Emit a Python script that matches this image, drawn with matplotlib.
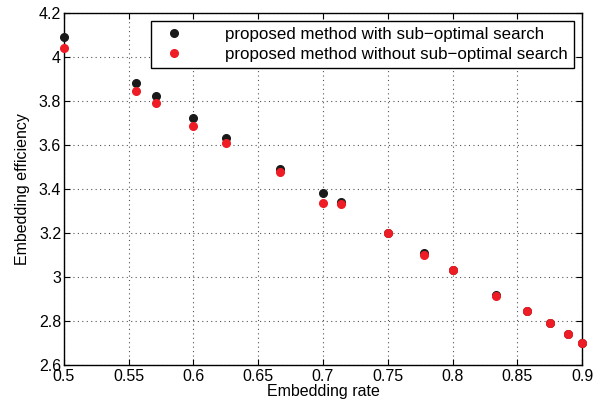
import numpy as np
import matplotlib
matplotlib.use("Agg")
import matplotlib.pyplot as plt

# values
rate = np.array([0.5, 5/9, 4/7, 0.6, 0.625, 2/3, 0.7, 5/7, 0.75, 7/9, 0.8, 5/6, 6/7, 0.875, 8/9, 0.9])
eff_sub = np.array([4.09, 3.88, 3.82, 3.72, 3.63, 3.49, 3.38, 3.34, 3.20, 3.11, 3.03, 2.92, 2.845, 2.79, 2.74, 2.70])
eff_nosub = np.array([4.04, 3.845, 3.79, 3.685, 3.61, 3.475, 3.335, 3.33, 3.20, 3.10, 3.03, 2.915, 2.845, 2.79, 2.74, 2.70])

plt.rcParams['font.family'] = ['Liberation Sans', 'DejaVu Sans']
plt.rcParams['font.size'] = 11.5

fig = plt.figure(figsize=(5.97, 4.13), dpi=100)
ax = fig.add_axes([0.107, 0.116, 0.868, 0.853])

ax.plot(rate, eff_sub, 'o', color='#1a1a1a', markersize=5.5, clip_on=False,
        label='proposed method with sub\u2212optimal search', zorder=3)
ax.plot(rate, eff_nosub, 'o', color='#ee1c24', markersize=5.5, clip_on=False,
        label='proposed method without sub\u2212optimal search', zorder=4)

ax.set_xlim(0.5, 0.9)
ax.set_ylim(2.6, 4.2)
ax.set_xticks(np.arange(0.5, 0.901, 0.05))
ax.set_xticklabels(['0.5', '0.55', '0.6', '0.65', '0.7', '0.75', '0.8', '0.85', '0.9'])
ax.set_yticks(np.arange(2.6, 4.201, 0.2))
ax.set_yticklabels(['2.6', '2.8', '3', '3.2', '3.4', '3.6', '3.8', '4', '4.2'])
ax.tick_params(direction='in', length=4, top=True, right=True)
ax.tick_params(axis='x', pad=3)
ax.tick_params(axis='y', pad=2)
ax.grid(True, linestyle=(0, (1, 3)), color='#555555', linewidth=0.8)
for s in ax.spines.values():
    s.set_linewidth(1.0)

ax.set_xlabel('Embedding rate', labelpad=0)
ax.set_ylabel('Embedding efficiency', labelpad=6)

leg = ax.legend(loc='upper right', fancybox=False, framealpha=1, edgecolor='black',
                borderaxespad=0.5, handletextpad=2.0, handlelength=2.0,
                borderpad=0.35, labelspacing=0.3, fontsize=12.2)
leg.get_frame().set_linewidth(1.0)

fig.savefig('out.png', dpi=100)
